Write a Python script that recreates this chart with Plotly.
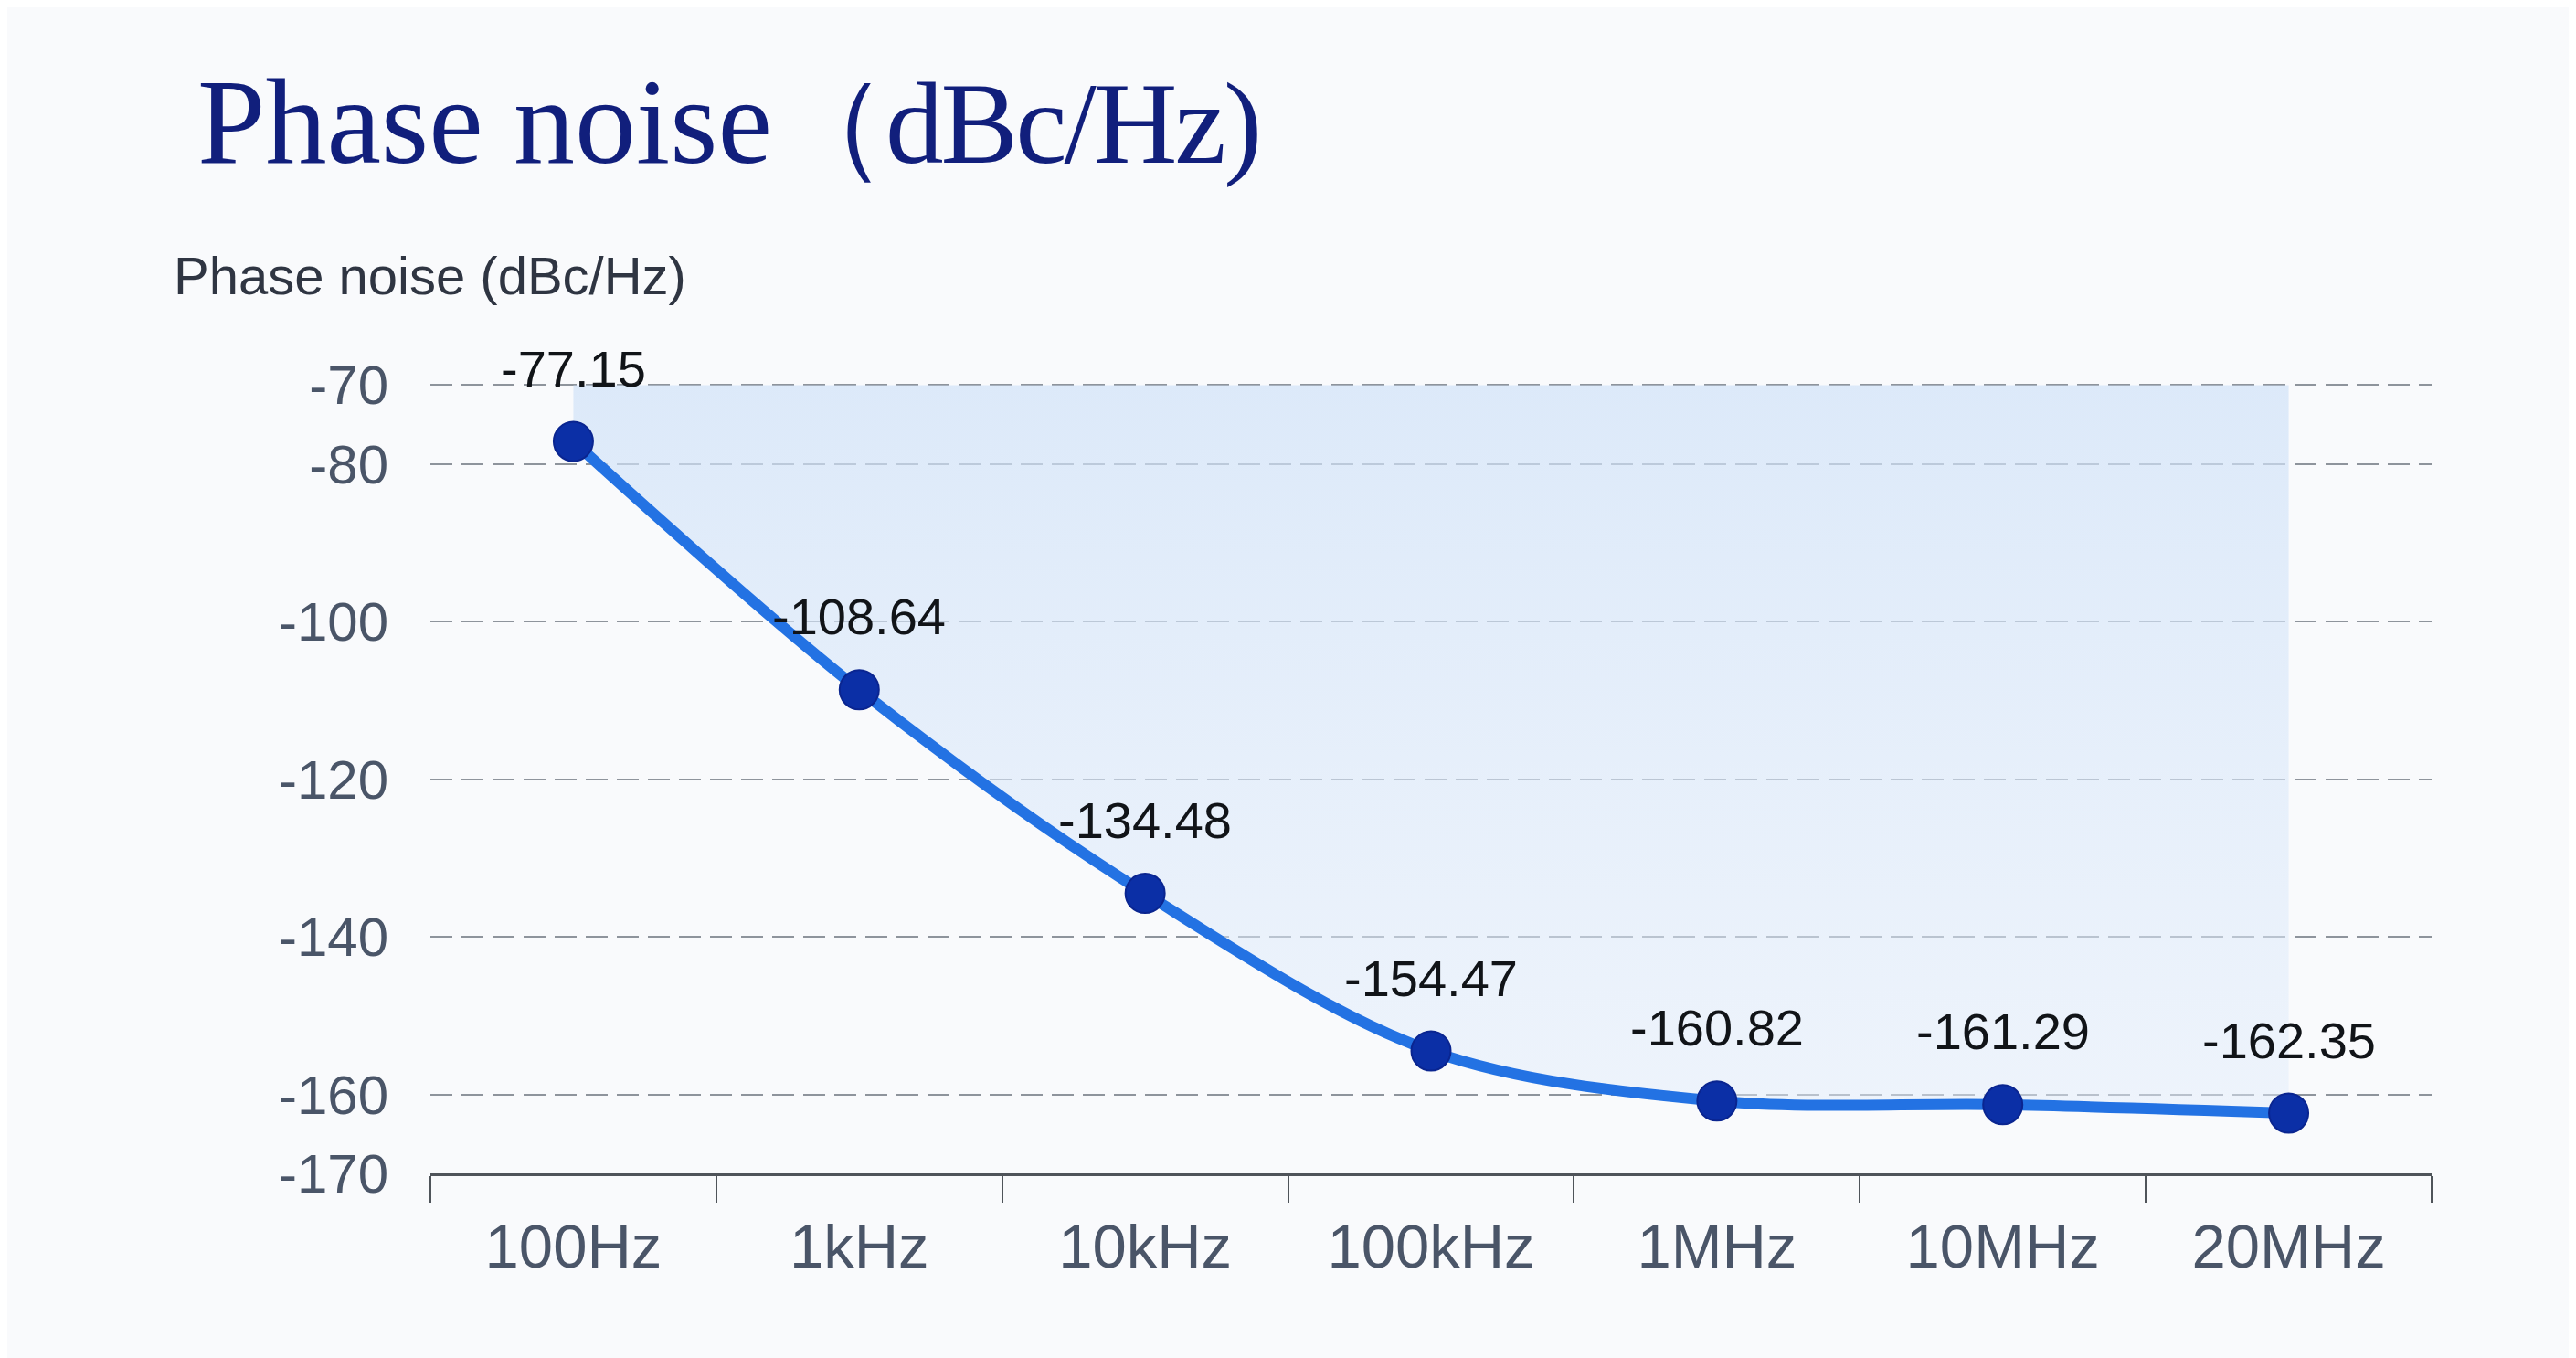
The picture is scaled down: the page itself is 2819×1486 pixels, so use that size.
import plotly.graph_objects as go

freqs = ["100Hz", "1kHz", "10kHz", "100kHz", "1MHz", "10MHz", "20MHz"]
noise = [-77.15, -108.64, -134.48, -154.47, -160.82, -161.29, -162.35]
y_ticks = [-70, -80, -100, -120, -140, -160, -170]
y_top = -70

fig = go.Figure()

# upper edge of the shaded band
fig.add_trace(go.Scatter(
    x=freqs, y=[y_top] * len(freqs), mode="lines",
    line=dict(width=0), hoverinfo="skip", showlegend=False,
))

fig.add_trace(go.Scatter(
    x=freqs, y=noise, mode="lines+markers",
    line=dict(color="#2372e3", width=12, shape="spline", smoothing=0.95),
    marker=dict(size=43, color="#0b2fa6", line=dict(color="#0a2590", width=2)),
    fill="tonexty",
    fillgradient=dict(
        type="vertical",
        colorscale=[[0, "rgba(226,237,251,0.5)"], [1, "rgba(208,226,248,0.7)"]],
    ),
    showlegend=False,
))

for f, v in zip(freqs, noise):
    fig.add_annotation(
        x=f, y=v, text=f"{v:.2f}", showarrow=False,
        yanchor="middle", yshift=80,
        font=dict(family="Liberation Sans, Arial, sans-serif", size=56, color="#111418"),
    )

fig.add_annotation(
    xref="paper", yref="paper", x=-0.129, y=1.135,
    xanchor="left", yanchor="middle", showarrow=False,
    text="Phase noise (dBc/Hz)",
    font=dict(family="Liberation Sans, Arial, sans-serif", size=58, color="#2f3542"),
)

fig.update_layout(
    width=2811, height=1478,
    margin=dict(l=463, r=158, t=410, b=202),
    paper_bgcolor="#f9fafc",
    plot_bgcolor="rgba(0,0,0,0)",
    title=dict(
        text='Phase noise<span style="letter-spacing:-3px;font-size:127px">（dBc/Hz)</span>',
        x=208 / 2811, xanchor="left", xref="container",
        y=1 - 76 / 1478, yanchor="top", yref="container",
        font=dict(family="Liberation Serif, Times New Roman, serif", size=134, color="#111f7c"),
    ),
)

fig.update_xaxes(
    type="category", range=[-0.5, 6.5],
    showline=True, linecolor="#4f545a", linewidth=3,
    ticks="outside", tickson="boundaries", ticklen=29, tickwidth=2, tickcolor="#4f545a",
    showgrid=False, zeroline=False, ticklabelstandoff=20,
    tickfont=dict(family="Liberation Sans, Arial, sans-serif", size=67, color="#4a5568"),
)

fig.update_yaxes(
    range=[-170, -69.6], tickvals=y_ticks, ticktext=[str(t) for t in y_ticks],
    showline=False, zeroline=False, ticks="",
    showgrid=True, gridcolor="#8e949c", gridwidth=2, griddash="24px,10px",
    ticklabelstandoff=45,
    tickfont=dict(family="Liberation Sans, Arial, sans-serif", size=60, color="#4a5568"),
)

fig.write_html("out.html")
